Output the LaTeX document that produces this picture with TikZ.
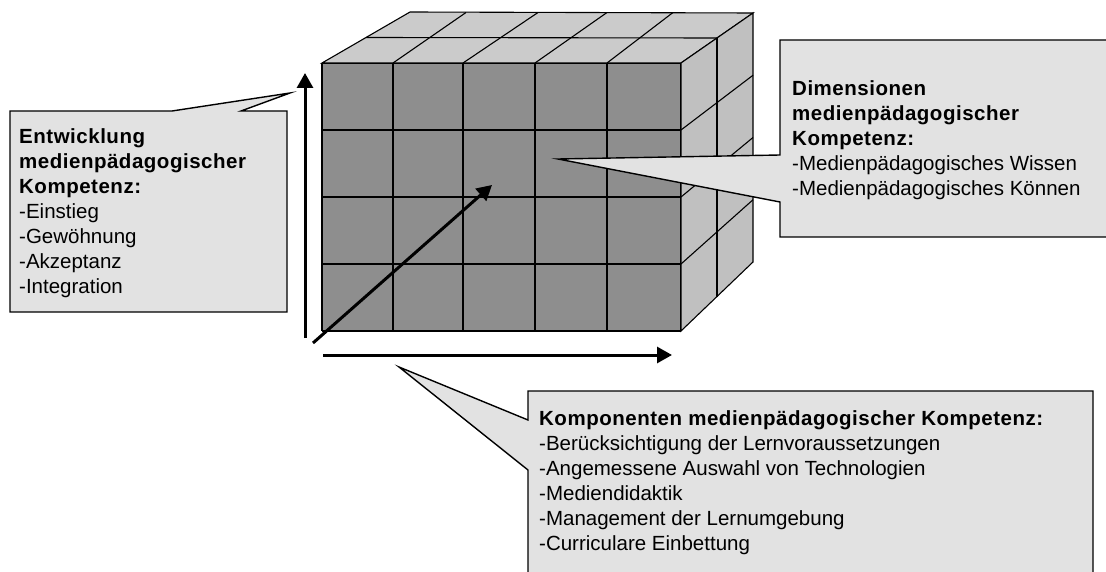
\documentclass[tikz,border=0pt]{standalone}
\usepackage{fontspec}
\setmainfont{Liberation Sans}
\newfontfamily\bspaced{Liberation Sans}[LetterSpace=2.5]
\newcommand\hd[1]{{\bspaced\bfseries #1}}
\usetikzlibrary{arrows.meta}
\definecolor{frontgray}{HTML}{8E8E8E}
\definecolor{topgray}{HTML}{CBCBCB}
\definecolor{sidegray}{HTML}{C0C0C0}
\definecolor{calloutfill}{HTML}{E2E2E2}
\begin{document}
\begin{tikzpicture}[x=1pt,y=-1pt,
  grid/.style={draw=black,line width=1.1pt},
  axis/.style={line width=3pt,-{Triangle[length=15pt,width=16pt]}},
  callbox/.style={fill=calloutfill,draw=black,line width=1.4pt,line join=miter},
  txt/.style={anchor=north west,inner sep=0pt,align=left,font=\fontsize{20.5}{25}\selectfont}]
\useasboundingbox (0,0) rectangle (1106,572);
\fill[white] (0,0) rectangle (1106,572);
\begin{scope}
\clip (0,0) rectangle (1106,572);
% front face
\fill[frontgray] (322,63) rectangle (681,331);
\foreach \x in {322,393,463,535,607,681} \draw[grid] (\x,63) -- (\x,331);
\foreach \y in {63,130,197,264,331} \draw[grid] (322,\y) -- (681,\y);
% top face
\filldraw[fill=topgray,grid] (322,63) -- (681,63) -- (753,13) -- (410,12) -- cycle;
\draw[grid] (366,37.5) -- (717,38);
\foreach \a/\b in {393/466,463/538,535/607,607/673} \draw[grid] (\a,63) -- (\b,12.5);
% right face
\filldraw[fill=sidegray,grid] (681,63) -- (753,13) -- (753,262) -- (681,331) -- cycle;
\draw[grid] (717,38) -- (717,296.5);
\foreach \a/\b in {130/75.25,197/137.5,264/199.75} \draw[grid] (681,\a) -- (753,\b);
% axes
\coordinate (vS) at (305,338); \coordinate (vE) at (305,73);
\coordinate (hS) at (323,355); \coordinate (hE) at (672,355);
\coordinate (dS) at (313,343); \coordinate (dE) at (492,185);
\draw[axis] (vS) -- (vE);
\draw[axis] (hS) -- (hE);
\draw[axis] (dS) -- (dE);
% callouts
\draw[callbox] (10,111) -- (172,111) -- (290,93) -- (241,111) -- (287,111) -- (287,312) -- (10,312) -- cycle;
\draw[callbox] (780,40) -- (1120,40) -- (1120,237) -- (780,237) -- (780,202) -- (558,159) -- (780,155) -- cycle;
\draw[callbox] (528,391) -- (1093,391) -- (1093,590) -- (528,590) -- (528,470) -- (399,367) -- (528,420) -- cycle;
% texts
\node[txt] (lefttext) at (19,128.3) {\hd{Entwicklung}\\ \hd{medienpädagogischer}\\ \hd{Kompetenz:}\\ -Einstieg\\ -Gewöhnung\\ -Akzeptanz\\ -Integration};
\node[txt] (righttext) at (792,80.3) {\hd{Dimensionen}\\ \hd{medienpädagogischer}\\ \hd{Kompetenz:}\\ -Medienpädagogisches Wissen\\ -Medienpädagogisches Können};
\node[txt] (bottomtext) at (539,410.3) {\hd{Komponenten medienpädagogischer Kompetenz:}\\ -Berücksichtigung der Lernvoraussetzungen\\ -Angemessene Auswahl von Technologien\\ -Mediendidaktik\\ -Management der Lernumgebung\\ -Curriculare Einbettung};
\end{scope}
\end{tikzpicture}
\end{document}
